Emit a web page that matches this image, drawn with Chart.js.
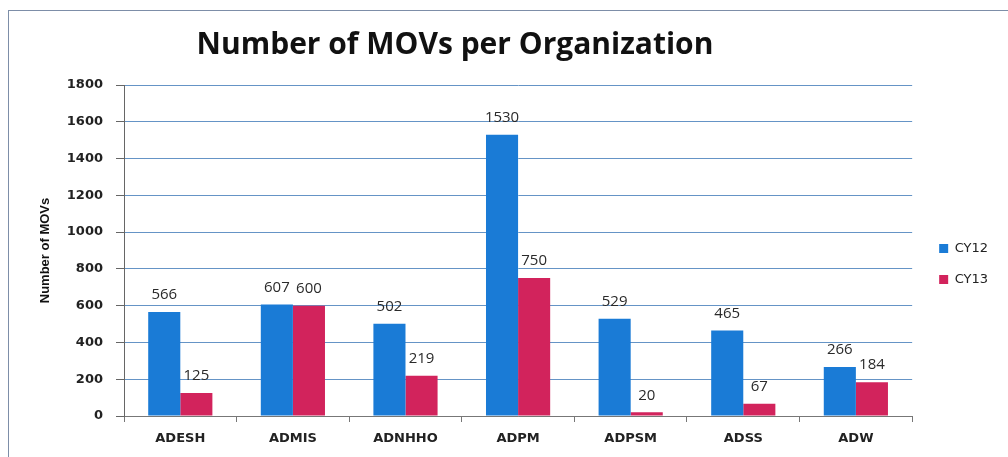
<!DOCTYPE html>
<html><head><meta charset="utf-8">
<script src="https://cdn.jsdelivr.net/npm/chart.js@4"></script>
<style>
html,body{margin:0;padding:0;background:#fff;}
#wrap{position:relative;width:1008px;height:457px;overflow:hidden;}
#frame{position:absolute;left:8px;top:10px;width:1010px;height:460px;border:1px solid #7d8ea8;box-sizing:border-box;pointer-events:none;}
canvas{position:absolute;left:0;top:0;}
</style>
</head><body>
<div id="wrap"><canvas id="c" width="1008" height="457"></canvas><div id="frame"></div></div>
<script>
const chartTitle = 'Number of MOVs per Organization';
const yAxisTitle = 'Number of MOVs';
const categories = ['ADESH','ADMIS','ADNHHO','ADPM','ADPSM','ADSS','ADW'];
const seriesNames = ['CY12','CY13'];
const cy12 = [566,607,502,1530,529,465,266];
const cy13 = [125,600,219,750,20,67,184];
const yMin = 0, yMax = 1800, yStep = 200;

const titlePlugin = {
  id:'customTitle',
  afterDraw(chart){
    const ctx = chart.ctx;
    ctx.save();
    ctx.font = 'bold 30px "Open Sans"';
    ctx.fillStyle = '#111';
    ctx.textAlign = 'center';
    ctx.textBaseline = 'middle';
    ctx.fillText(chartTitle, 455, 45);
    ctx.restore();
  }
};
const valuePlugin = {
  id:'valueLabels',
  afterDatasetsDraw(chart){
    const ctx = chart.ctx;
    ctx.save();
    ctx.font = '15px "Open Sans"';
    ctx.fillStyle = '#2a2a2a';
    ctx.textAlign = 'center';
    ctx.textBaseline = 'middle';
    chart.data.datasets.forEach((ds,i)=>{
      chart.getDatasetMeta(i).data.forEach((bar,j)=>{
        ctx.fillText(String(ds.data[j]), bar.x, bar.y - 17);
      });
    });
    ctx.restore();
  }
};
const legendShift = {
  id:'legendShift',
  afterLayout(chart){
    const lg = chart.legend;
    if(!lg) return;
    const dx = 9, dy = -7;
    lg.left += dx; lg.right += dx; lg.top += dy; lg.bottom += dy;
  }
};

new Chart(document.getElementById('c'), {
  type:'bar',
  data:{
    labels: categories,
    datasets:[
      {label: seriesNames[0], data: cy12, backgroundColor:'#1a7bd6', borderWidth:0},
      {label: seriesNames[1], data: cy13, backgroundColor:'#d2235c', borderWidth:0}
    ]
  },
  options:{
    responsive:false,
    animation:false,
    devicePixelRatio:1,
    layout:{padding:{top:85,left:30,right:19,bottom:0}},
    datasets:{bar:{categoryPercentage:0.57,barPercentage:1.0}},
    plugins:{
      title:{display:false},
      tooltip:{enabled:false},
      legend:{
        position:'right',
        labels:{boxWidth:9,boxHeight:9,padding:18,color:'#222',font:{family:'"DejaVu Sans"',size:13}}
      }
    },
    scales:{
      x:{
        afterFit(s){ s.height = 41; },
        grid:{display:true,drawOnChartArea:false,drawTicks:true,tickLength:6,tickColor:'#777',offset:true},
        border:{display:true,color:'#777'},
        ticks:{color:'#222',font:{family:'"DejaVu Sans"',size:13,weight:'bold'},padding:9}
      },
      y:{
        min:yMin,max:yMax,
        afterFit(s){ s.width = 94; },
        ticks:{stepSize:yStep,color:'#222',font:{family:'"DejaVu Sans"',size:13,weight:'bold'},padding:13,
          callback:(v)=>String(v)},
        grid:{color:'#6594c6',lineWidth:1,tickLength:8,tickColor:'#666'},
        border:{display:true,color:'#666'},
        title:{display:true,text:yAxisTitle,color:'#111',font:{family:'"Liberation Sans"',size:13,weight:'bold'},padding:{top:8,bottom:4}}
      }
    }
  },
  plugins:[titlePlugin,valuePlugin,legendShift]
});
</script>
</body></html>
